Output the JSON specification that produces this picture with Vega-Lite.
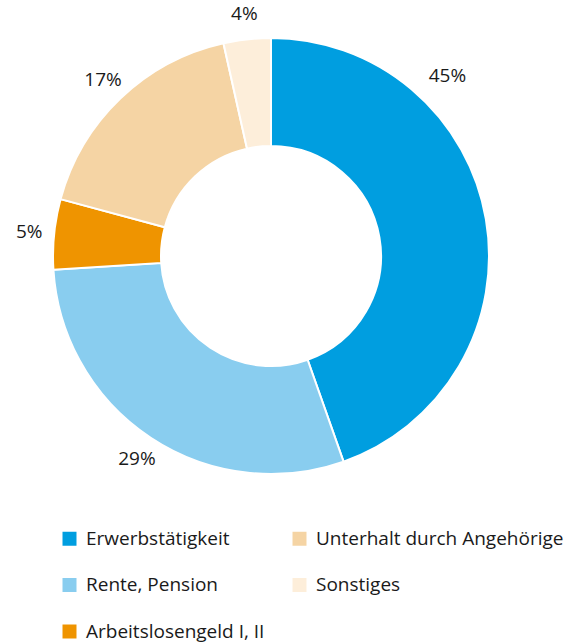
{
  "$schema": "https://vega.github.io/schema/vega-lite/v6.json",
  "width": 542,
  "height": 512,
  "padding": 0,
  "autosize": {"type": "pad"},
  "background": "white",
  "config": {"view": {"stroke": null}, "font": "Open Sans"},
  "data": {"values": [
    {"Quelle": "Erwerbstätigkeit", "Anteil": 44.6, "Reihe": 1},
    {"Quelle": "Rente, Pension", "Anteil": 29.4, "Reihe": 2},
    {"Quelle": "Arbeitslosengeld I, II", "Anteil": 5.2, "Reihe": 3},
    {"Quelle": "Unterhalt durch Angehörige", "Anteil": 17.3, "Reihe": 4},
    {"Quelle": "Sonstiges", "Anteil": 3.5, "Reihe": 5}
  ]},
  "transform": [
    {"stack": "Anteil", "groupby": [], "sort": [{"field": "Reihe", "order": "ascending"}], "as": ["a0", "a1"]},
    {"calculate": "(datum.a0 + datum.a1) / 2", "as": "mitte"},
    {"calculate": "format(datum.Anteil, '.0f') + '%'", "as": "Label"}
  ],
  "layer": [
    {
      "mark": {"type": "arc", "outerRadius": 218, "innerRadius": 110, "stroke": "white", "strokeWidth": 2},
      "encoding": {
        "theta": {"field": "a0", "type": "quantitative", "scale": {"domain": [0, 100]}},
        "theta2": {"field": "a1"},
        "color": {
          "field": "Quelle",
          "type": "nominal",
          "scale": {
            "domain": ["Erwerbstätigkeit", "Rente, Pension", "Arbeitslosengeld I, II", "Unterhalt durch Angehörige", "Sonstiges"],
            "range": ["#009ee0", "#89cdef", "#ef9400", "#f5d4a4", "#fdeeda"]
          },
          "legend": {
            "orient": "none",
            "legendX": 60,
            "legendY": 529,
            "columns": 2,
            "title": null,
            "padding": 0,
            "symbolType": "square",
            "symbolSize": 196,
            "symbolStrokeWidth": 0,
            "symbolOpacity": 1,
            "labelFontSize": 19,
            "labelColor": "#1a1a1a",
            "labelOffset": 7,
            "labelLimit": 400,
            "columnPadding": 25,
            "rowPadding": 26.5
          }
        }
      }
    },
    {
      "transform": [{"filter": "datum.Reihe != 1"}],
      "mark": {"type": "text", "radius": 243, "fontSize": 19, "color": "#1a1a1a", "align": "center", "baseline": "middle"},
      "encoding": {
        "theta": {"field": "mitte", "type": "quantitative"},
        "text": {"field": "Label"}
      }
    },
    {
      "transform": [{"filter": "datum.Reihe == 1"}],
      "mark": {"type": "text", "radius": 246, "fontSize": 19, "color": "#1a1a1a", "align": "center", "baseline": "middle", "dx": -66, "dy": -138},
      "encoding": {
        "theta": {"field": "mitte", "type": "quantitative"},
        "text": {"field": "Label"}
      }
    }
  ]
}
